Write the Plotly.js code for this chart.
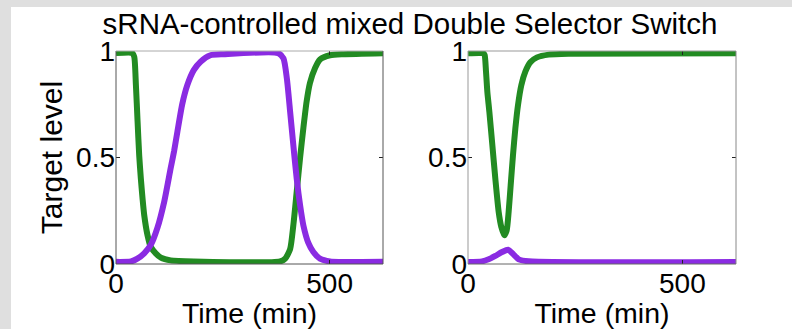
<!DOCTYPE html>
<html><head><meta charset="utf-8">
<script src="https://cdn.plot.ly/plotly-3.0.1.min.js"></script>
<style>
html,body{margin:0;padding:0;background:#dfdfdf;width:792px;height:329px;overflow:hidden}
#chart{position:absolute;left:11px;top:7px;width:781px;height:322px;background:#fff}
</style></head>
<body><div id="chart"></div>
<script>
// Left panel (time in min, target level)
const tGreenL = [0, 38, 42.7, 46.6, 50.5, 54.3, 58.2, 62, 66, 73.8, 81.5, 93, 105, 128, 182, 384, 396, 407.6, 415, 423, 431, 438.7, 446, 454, 466, 477.5, 501, 532, 625];
const greenL  = [0.99, 0.99, 0.973, 0.84, 0.67, 0.51, 0.40, 0.31, 0.23, 0.135, 0.08, 0.05, 0.03, 0.017, 0.012, 0.012, 0.025, 0.07, 0.18, 0.34, 0.50, 0.64, 0.76, 0.85, 0.92, 0.96, 0.98, 0.985, 0.99];
const tPurpleL = [0, 35, 50, 66, 81.5, 97, 112.6, 128, 136, 143.6, 155, 167, 182, 198, 221, 252, 380, 392, 400, 407.6, 415, 423, 431, 438.7, 450, 462, 477.5, 501, 625];
const purpleL  = [0.01, 0.012, 0.025, 0.05, 0.09, 0.17, 0.29, 0.45, 0.53, 0.62, 0.75, 0.84, 0.91, 0.95, 0.98, 0.985, 0.99, 0.965, 0.87, 0.715, 0.56, 0.40, 0.275, 0.18, 0.10, 0.056, 0.025, 0.012, 0.01];
// Right panel
const tGreenR = [0, 35.8, 38.9, 42.0, 45.1, 49.8, 56.8, 63.7, 71.5, 77.7, 84.7, 90.2, 94.8, 99.5, 104.9, 110.4, 116.6, 124.4, 133.7, 145.4, 160.9, 188.1, 234.8, 625];
const greenR  = [0.99, 0.989, 0.981, 0.903, 0.809, 0.715, 0.558, 0.401, 0.245, 0.174, 0.135, 0.158, 0.245, 0.370, 0.511, 0.636, 0.746, 0.840, 0.903, 0.947, 0.970, 0.983, 0.987, 0.989];
const tPurpleR = [0, 32.6, 48.2, 63.7, 79.3, 93.3, 106.5, 118.2, 141.5, 625];
const purpleR  = [0.009, 0.0125, 0.022, 0.038, 0.056, 0.067, 0.044, 0.022, 0.0125, 0.009];

const xTicks = [0, 500];
const yTicks = [0, 0.5, 1];
const yTickText = ['0', '0.5', '1'];
const titleText = 'sRNA-controlled mixed Double Selector Switch';
const xTitle = 'Time (min)';
const yTitle = 'Target level';

const GREEN = '#228b22', PURPLE = '#8a2be2';
const FONT = 'Liberation Sans, Arial, sans-serif';

function tr(x, y, color, xa, ya) {
  return {x: x, y: y, xaxis: xa, yaxis: ya, type: 'scatter', mode: 'lines',
    line: {color: color, width: 6, shape: 'spline', smoothing: 0.6}, hoverinfo: 'skip', showlegend: false};
}
const data = [
  tr(tGreenL, greenL, GREEN, 'x', 'y'),
  tr(tPurpleL, purpleL, PURPLE, 'x', 'y'),
  tr(tGreenR, greenR, GREEN, 'x2', 'y2'),
  tr(tPurpleR, purpleR, PURPLE, 'x2', 'y2')
];

function xax(dom, anchor) {
  return {domain: dom, anchor: anchor, range: [0, 625], tickvals: xTicks, ticktext: xTicks.map(String),
    ticks: 'inside', ticklen: 4, tickcolor: '#222', mirror: 'ticks', showline: false, showgrid: false, zeroline: false,
    tickfont: {family: FONT, size: 28, color: '#000'},
    title: {text: xTitle, font: {family: FONT, size: 28.5, color: '#000'}, standoff: 0}, automargin: false};
}
function yax(anchor, withTitle) {
  return {domain: [0, 1], anchor: anchor, range: [0, 1], tickvals: yTicks, ticktext: yTickText,
    ticks: 'inside', ticklen: 4, tickcolor: '#222', mirror: 'ticks', showline: false, showgrid: false, zeroline: false,
    tickfont: {family: FONT, size: 28, color: '#000'},
    title: withTitle ? {text: yTitle, font: {family: FONT, size: 30, color: '#000'}, standoff: 4} : {text: ''}, automargin: false};
}
function box(xr, yr, cols) {
  const s = [];
  const sides = [[0,0,0,1],[0,1,1,1],[1,1,1,0],[1,0,0,0]]; // left, top, right, bottom
  sides.forEach((p, i) => s.push({type: 'line', xref: xr, yref: yr, x0: p[0], y0: p[1], x1: p[2], y1: p[3],
    line: {color: cols[i], width: 1}, layer: 'above'}));
  return s;
}
const L = 105, R = 56, T = 44, B = 65;
const W = 781, H = 322;
const pw = W - L - R;
const d1 = [0, (383 - 116) / pw];
const d2 = [(468 - 116) / pw, 1];

const layout = {
  width: W, height: H,
  margin: {l: L, r: R, t: T, b: B, pad: 0},
  paper_bgcolor: '#fff', plot_bgcolor: '#fff',
  font: {family: FONT, size: 28, color: '#000'},
  title: {text: titleText, font: {family: FONT, size: 29.5, color: '#000'},
    xref: 'container', x: 399 / W, xanchor: 'center', yref: 'container', y: 1 - 17 / H, yanchor: 'middle'},
  xaxis: xax(d1, 'y'), yaxis: yax('x', true),
  xaxis2: xax(d2, 'y2'), yaxis2: yax('x2', false),
  shapes: box('x domain', 'y domain', ['#555', '#aaa', '#555', '#555'])
    .concat(box('x2 domain', 'y2 domain', ['#999', '#999', '#888', '#666'])),
  showlegend: false
};
Plotly.newPlot('chart', data, layout, {displayModeBar: false, staticPlot: true});
</script></body></html>
